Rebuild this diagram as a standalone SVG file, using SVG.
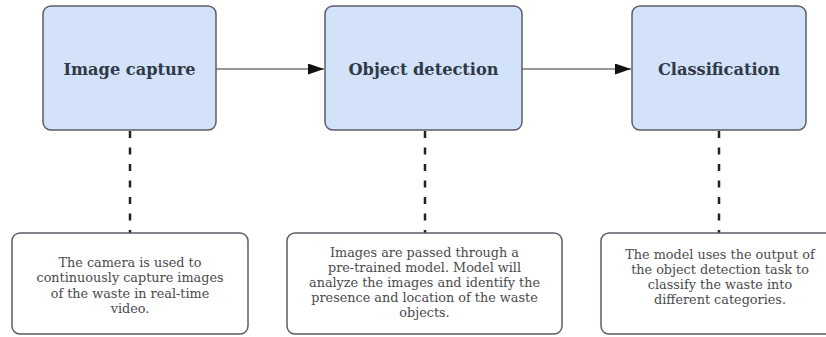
<svg xmlns="http://www.w3.org/2000/svg" width="826" height="337" viewBox="0 0 826 337">
<defs>
<style>
.step rect{fill:#d3e2f8;stroke:#5a5e66;stroke-width:1.5}
.note rect{fill:#ffffff;stroke:#5a5e66;stroke-width:1.5}
.title{font-family:"DejaVu Serif","Liberation Serif",serif;font-weight:bold;font-size:16.2px;fill:#2f3947;text-anchor:middle}
.body{font-family:"DejaVu Serif","Liberation Serif",serif;font-size:12.8px;fill:#4a4a4a;text-anchor:middle}
.flow{stroke:#333;stroke-width:1.2;fill:none;marker-end:url(#arr)}
.dash{stroke:#222;stroke-width:2.5;stroke-dasharray:7 9.5;fill:none}
</style>
<marker id="arr" viewBox="0 0 16 11" refX="16" refY="5.5" markerWidth="16" markerHeight="11" markerUnits="userSpaceOnUse" orient="auto">
<path d="M0,0 L16,5.5 L0,11 Z" fill="#111"/>
</marker>
</defs>
<g id="connectors">
<line class="flow" x1="216" y1="69" x2="324" y2="69"/>
<line class="flow" x1="522" y1="69" x2="631" y2="69"/>
<line class="dash" x1="130" y1="131" x2="130" y2="233"/>
<line class="dash" x1="425" y1="131" x2="425" y2="233"/>
<line class="dash" x1="719" y1="131" x2="719" y2="233"/>
</g>
<g id="image-capture" class="step">
<rect x="43" y="6" width="173" height="124" rx="8"/>
<text class="title" x="129.5" y="75">Image capture</text>
</g>
<g id="object-detection" class="step">
<rect x="325" y="6" width="197" height="124" rx="8"/>
<text class="title" x="423.5" y="75">Object detection</text>
</g>
<g id="classification" class="step">
<rect x="632" y="6" width="174" height="124" rx="8"/>
<text class="title" x="719" y="75">Classification</text>
</g>
<g id="note-capture" class="note">
<rect x="12" y="233" width="236" height="101" rx="8"/>
<text class="body" x="130" y="267">The camera is used to</text>
<text class="body" x="130" y="282">continuously capture images</text>
<text class="body" x="130" y="298">of the waste in real-time</text>
<text class="body" x="130" y="313">video.</text>
</g>
<g id="note-detection" class="note">
<rect x="287" y="233" width="275" height="101" rx="8"/>
<text class="body" x="424.5" y="257">Images are passed through a</text>
<text class="body" x="424.5" y="272">pre-trained model. Model will</text>
<text class="body" x="424.5" y="287">analyze the images and identify the</text>
<text class="body" x="424.5" y="302">presence and location of the waste</text>
<text class="body" x="424.5" y="317">objects.</text>
</g>
<g id="note-classification" class="note">
<rect x="601" y="233" width="238" height="101" rx="8"/>
<text class="body" x="720" y="259">The model uses the output of</text>
<text class="body" x="720" y="274">the object detection task to</text>
<text class="body" x="720" y="289">classify the waste into</text>
<text class="body" x="720" y="304">different categories.</text>
</g>
</svg>
